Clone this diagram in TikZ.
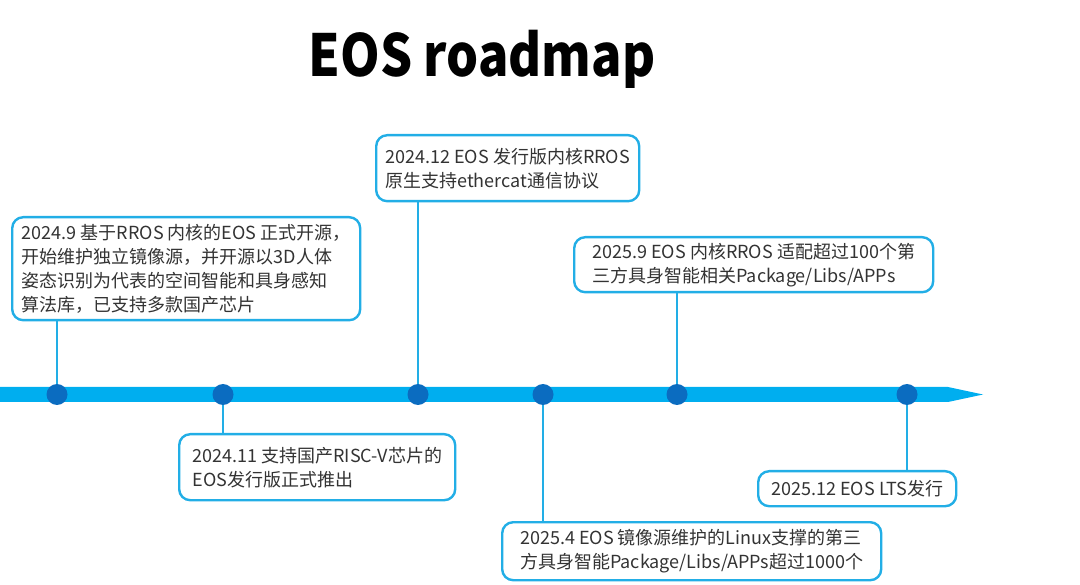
\documentclass[tikz,border=0pt]{standalone}
\usepackage{fontspec}
\setmainfont{Noto Sans CJK SC}
\newfontfamily\titlefont[FakeStretch=0.87]{Noto Sans CJK SC}
\definecolor{barblue}{HTML}{00AEEF}
\definecolor{dotblue}{HTML}{0B6CC0}
\definecolor{boxblue}{HTML}{22AEE6}
\definecolor{txtgray}{HTML}{333333}
\tikzset{
    event/.style={draw=boxblue, line width=2.4pt, rounded corners=11pt, fill=white,
        anchor=north west, align=left, inner sep=0pt, text=txtgray,
        font=\fontsize{18}{24}\selectfont},
    milestone/.style={circle, fill=dotblue, minimum size=21pt, inner sep=0pt},
    stem/.style={draw=boxblue, line width=2pt}
}
\begin{document}
\begin{tikzpicture}[x=1pt,y=-1pt]
    \useasboundingbox (0,0) rectangle (1080,585);
    \node[font=\fontsize{58}{58}\titlefont\bfseries, anchor=base] (title) at (482,77) {EOS roadmap};

    % time bar
    \fill[barblue] (0,387) -- (948,387) -- (983,394.5) -- (948,402) -- (0,402) -- cycle;

    \node[event, minimum width=348, minimum height=103] (e1) at (11,216)
        {2024.9 基于RROS 内核的EOS 正式开源，\\开始维护独立镜像源，并开源以3D人体\\姿态识别为代表的空间智能和具身感知\\算法库，已支持多款国产芯片};
    \node[event, minimum width=276, minimum height=66] (e2) at (178,433)
        {2024.11 支持国产RISC-V芯片的\\EOS发行版正式推出};
    \node[event, minimum width=263, minimum height=66] (e3) at (375,134)
        {2024.12 EOS 发行版内核RROS\\原生支持ethercat通信协议};
    \node[event, minimum width=379, minimum height=58] (e4) at (501,521)
        {2025.4 EOS 镜像源维护的Linux支撑的第三\\方具身智能Package/Libs/APPs超过1000个};
    \node[event, minimum width=359, minimum height=55] (e5) at (573,236)
        {2025.9 EOS 内核RROS 适配超过100个第\\三方具身智能相关Package/Libs/APPs};
    \node[event, align=center, minimum width=198, minimum height=35] (e6) at (757,470)
        {2025.12 EOS LTS发行};

    \node[milestone] (d1) at (57,394.5) {};
    \node[milestone] (d2) at (223,394.5) {};
    \node[milestone] (d3) at (418,394.5) {};
    \node[milestone] (d4) at (543,394.5) {};
    \node[milestone] (d5) at (677,394.5) {};
    \node[milestone] (d6) at (907,394.5) {};

    \draw[stem] (d1.north) -- (d1 |- e1.south);
    \draw[stem] (d2.south) -- (d2 |- e2.north);
    \draw[stem] (d3.north) -- (d3 |- e3.south);
    \draw[stem] (d4.south) -- (d4 |- e4.north);
    \draw[stem] (d5.north) -- (d5 |- e5.south);
    \draw[stem] (d6.south) -- (d6 |- e6.north);
\end{tikzpicture}
\end{document}
